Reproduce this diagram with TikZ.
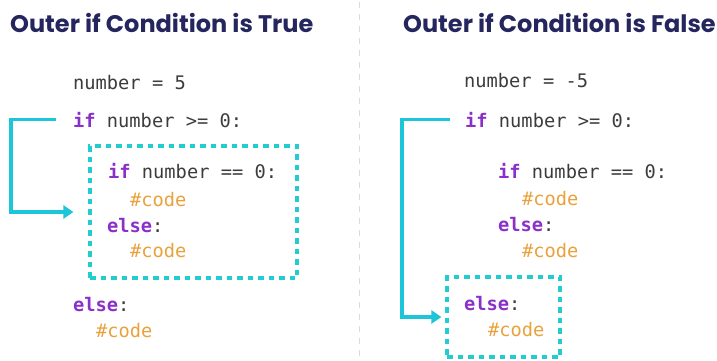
\documentclass[tikz,border=0pt]{standalone}
\usepackage{fontspec}
\setsansfont{Poppins}
\setmonofont{DejaVu Sans Mono}
\usetikzlibrary{arrows.meta}
\definecolor{navy}{HTML}{25265E}
\definecolor{kwpurple}{HTML}{8B2FC9}
\definecolor{txtgray}{HTML}{3C3C3C}
\definecolor{cmtorange}{HTML}{E9A23B}
\definecolor{boxcyan}{HTML}{22CCD0}
\definecolor{flowcyan}{HTML}{1CC5D8}
\definecolor{divgray}{HTML}{DADADA}
\newcommand{\kw}[1]{{\color{kwpurple}\bfseries #1}}
\newcommand{\cmt}[1]{{\color{cmtorange}#1}}
\begin{document}
\begin{tikzpicture}
[x=1pt,y=-1pt,
title/.style={anchor=base west,inner sep=0pt,text=navy,font=\sffamily\bfseries\fontsize{24}{26}\selectfont},
code/.style={anchor=base west,inner sep=0pt,text=txtgray,font=\ttfamily\fontsize{18.7}{20}\selectfont},
block/.style={draw=boxcyan,line width=3.2pt,dash pattern=on 5.5pt off 5pt,inner sep=0pt},
flow/.style={draw=flowcyan,line width=3.4pt,-{Triangle[length=10pt,width=13pt]}}]
\useasboundingbox (0,0) rectangle (717,361);
\draw[divgray,line width=1pt,dash pattern=on 6pt off 6pt] (359,2) -- (359,361);
% left panel
\node[title] (t1) at (10,33) {Outer if Condition is True};
\node[code] (a1) at (73,89) {number = 5};
\node[code] (a2) at (73,127) {\kw{if} number >= 0:};
\node[code] (a3) at (108,178) {\kw{if} number == 0:};
\node[code] (a4) at (130,206) {\cmt{\#code}};
\node[code] (a5) at (107,232) {\kw{else}:};
\node[code] (a6) at (130,257) {\cmt{\#code}};
\node[code] (a7) at (73,311) {\kw{else}:};
\node[code] (a8) at (96,337) {\cmt{\#code}};
\node[block,minimum width=207pt,minimum height=132pt] (box1) at (193.5,212) {};
\draw[flow,shorten >=15pt] ([xshift=-17pt]a2.west) -- ++(-45,0) |- (box1.west);
% right panel
\node[title] (t2) at (403,33) {Outer if Condition is False};
\node[code] (b1) at (464,88) {number = -5};
\node[code] (b2) at (465,127) {\kw{if} number >= 0:};
\node[code] (b3) at (498,178) {\kw{if} number == 0:};
\node[code] (b4) at (522,205) {\cmt{\#code}};
\node[code] (b5) at (498,231) {\kw{else}:};
\node[code] (b6) at (522,257) {\cmt{\#code}};
\node[code] (b7) at (464,310) {\kw{else}:};
\node[code] (b8) at (488,336) {\cmt{\#code}};
\node[block,minimum width=113pt,minimum height=80pt] (box2) at (503.5,317) {};
\draw[flow,shorten >=4pt] ([xshift=-15pt]b2.west) -- ++(-48,0) |- (box2.west);
\end{tikzpicture}
\end{document}
